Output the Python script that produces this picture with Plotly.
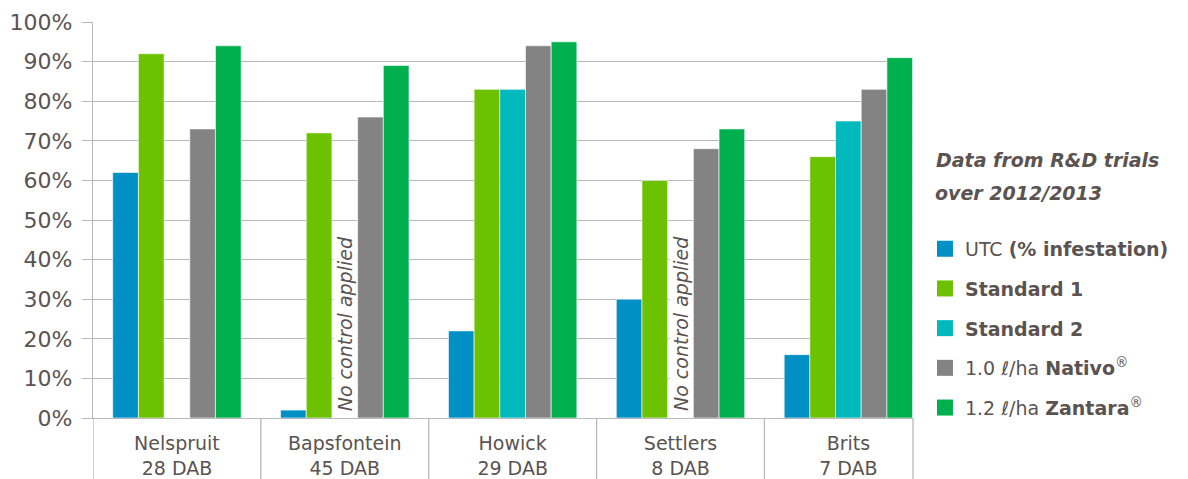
import plotly.graph_objects as go

sites = ["Nelspruit<br>28 DAB", "Bapsfontein<br>45 DAB", "Howick<br>29 DAB",
         "Settlers<br>8 DAB", "Brits<br>7 DAB"]

utc = [62, 2, 22, 30, 16]
standard1 = [92, 72, 83, 60, 66]
standard2 = [None, None, 83, None, 75]
nativo = [73, 76, 94, 68, 83]
zantara = [94, 89, 95, 73, 91]

no_control_sites = [sites[1], sites[3]]

y_ticks = [0, 10, 20, 30, 40, 50, 60, 70, 80, 90, 100]
y_tick_text = [f"{v}%" for v in y_ticks]

series = [
    ("UTC <b>(% infestation)</b>", utc, "#0090c6"),
    ("<b>Standard 1</b>", standard1, "#6cc100"),
    ("<b>Standard 2</b>", standard2, "#00b9bd"),
    ("1.0 <i>ℓ</i>/ha <b>Nativo</b><sup>®</sup>", nativo, "#838383"),
    ("1.2 <i>ℓ</i>/ha <b>Zantara</b><sup>®</sup>", zantara, "#00b04e"),
]

text_col = "#5b5351"
grid_col = "#b9b9b9"
font_fam = "DejaVu Sans, Liberation Sans, sans-serif"

fig = go.Figure()

for name, vals, col in series:
    fig.add_trace(go.Bar(
        x=sites, y=vals, name=name,
        marker=dict(color=col, line=dict(color="rgba(255,255,255,0.6)", width=1)),
        showlegend=False,
    ))

# legend entries with bigger square swatches
for i, (name, vals, col) in enumerate(series):
    fig.add_trace(go.Scatter(
        x=[None], y=[None], mode="markers", name=name,
        legendgroup=f"g{i}",
        marker=dict(symbol="square", size=16, color=col),
    ))

for s in no_control_sites:
    fig.add_annotation(
        x=s, y=0, xref="x", yref="y",
        text="<i>No control applied</i>", textangle=-90,
        xanchor="center", yanchor="bottom", yshift=6,
        showarrow=False, bgcolor="white", borderpad=0,
        font=dict(size=19, color=text_col),
    )

# separators below the axis between the site labels
for b in [-0.5, 0.5, 1.5, 2.5, 3.5]:
    fig.add_shape(type="line", xref="x", yref="paper",
                  x0=b, x1=b, y0=0, y1=-0.2,
                  line=dict(color=grid_col, width=1.3))
fig.add_shape(type="line", xref="paper", yref="paper",
              x0=1, x1=1, y0=0, y1=-0.2,
              line=dict(color=grid_col, width=1.3))

h = 396.6
fig.add_annotation(x=1.025, y=(418 - 160) / h, xref="paper", yref="paper",
                   text="<b><i>Data from R&amp;D trials</i></b>", showarrow=False,
                   xanchor="left", yanchor="middle",
                   font=dict(size=19, color=text_col))
fig.add_annotation(x=1.025, y=(418 - 193) / h, xref="paper", yref="paper",
                   text="<b><i>over 2012/2013</i></b>", showarrow=False,
                   xanchor="left", yanchor="middle",
                   font=dict(size=19, color=text_col))

# page body adds an 8px offset, so the figure is 8px smaller on each axis
fig.update_layout(
    width=1180, height=471,
    margin=dict(l=85, r=275, t=14, b=61, autoexpand=False),
    plot_bgcolor="white", paper_bgcolor="white",
    barmode="group", bargap=0.235, bargroupgap=0,
    font=dict(family=font_fam, color=text_col),
    legend=dict(x=1.0146, y=0.475, xanchor="left", yanchor="top",
                font=dict(size=19, color=text_col),
                tracegroupgap=12, traceorder="grouped", itemwidth=30),
)

fig.update_xaxes(
    type="category", range=[-0.5, 4.385],
    showline=True, linecolor=grid_col, linewidth=1.3,
    showgrid=False, ticks="", ticklabelstandoff=8,
    tickfont=dict(size=19, color=text_col),
)
fig.update_yaxes(
    range=[0, 100], tickvals=y_ticks, ticktext=y_tick_text,
    showline=True, linecolor=grid_col, linewidth=1.3,
    showgrid=True, gridcolor=grid_col, gridwidth=1.3,
    ticks="outside", ticklen=10, tickcolor=grid_col, tickwidth=1.3,
    ticklabelstandoff=5,
    tickfont=dict(size=22, color=text_col), zeroline=False,
)

fig.write_html("out.html")
